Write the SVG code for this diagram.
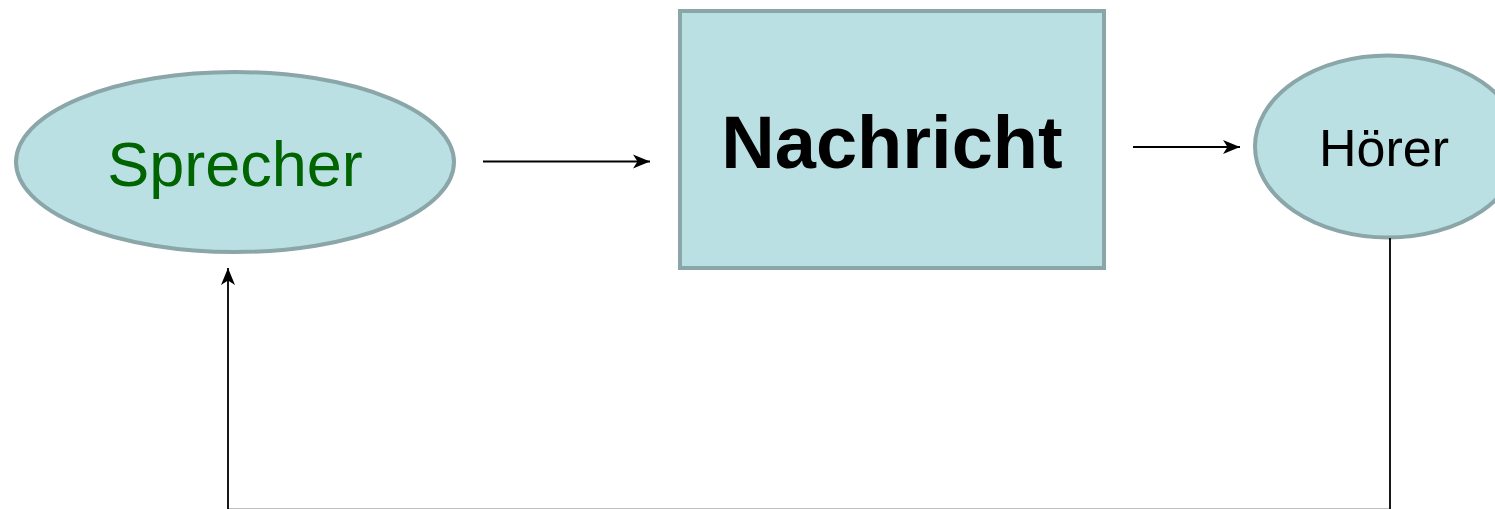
<svg xmlns="http://www.w3.org/2000/svg" width="1495" height="509" viewBox="0 0 1495 509">
  <style>
    .node { fill: #bbe0e3; stroke: #8aa6a8; stroke-width: 4; }
    .conn { fill: none; stroke: #000; stroke-width: 1.8; }
    .lbl { font-family: "Liberation Sans", Arial, sans-serif; text-anchor: middle; }
  </style>
  <defs>
    <marker id="arr" markerUnits="userSpaceOnUse" markerWidth="18" markerHeight="16" viewBox="0 0 18 16" refX="17" refY="8" orient="auto">
      <path d="M0,1 L17,8 L0,15 L4.5,8 Z" fill="#000"/>
    </marker>
  </defs>
  <rect width="1495" height="509" fill="#fff"/>
  <g id="sprecher">
    <ellipse class="node" cx="235" cy="162" rx="219" ry="90"/>
    <text class="lbl" x="235" y="186" font-size="63" fill="#006400">Sprecher</text>
  </g>
  <g id="nachricht">
    <rect class="node" x="680" y="11" width="424" height="257"/>
    <text class="lbl" x="892" y="168" font-size="74" font-weight="bold" fill="#000">Nachricht</text>
  </g>
  <g id="hoerer">
    <ellipse class="node" cx="1388" cy="146.5" rx="133" ry="91"/>
    <text class="lbl" x="1384" y="166" font-size="52" fill="#000">Hörer</text>
  </g>
  <g id="connectors">
    <line class="conn" x1="483" y1="161.5" x2="650" y2="161.5" marker-end="url(#arr)"/>
    <line class="conn" x1="1133" y1="147" x2="1240" y2="147" marker-end="url(#arr)"/>
    <polyline class="conn" points="1390,238 1390,509.7 228,509.7 228,268" marker-end="url(#arr)"/>
  </g>
</svg>
